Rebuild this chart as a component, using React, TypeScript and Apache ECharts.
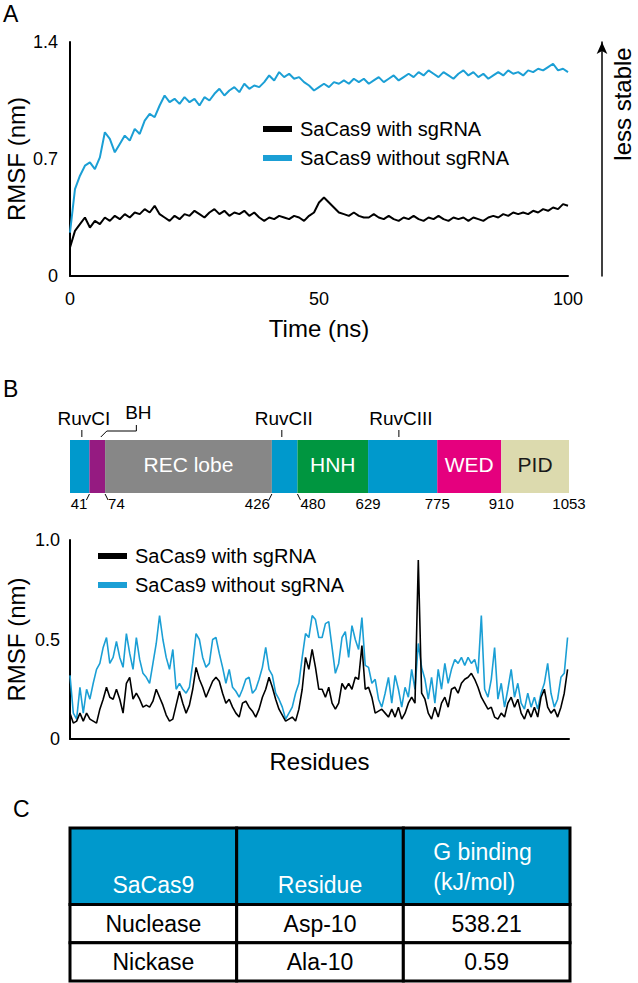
import React, { useEffect, useRef } from 'react';
import * as echarts from 'echarts';

const FONT = '"Liberation Sans", Arial, Helvetica, sans-serif';
const BLUE_LINE = '#1b9fd5';
const BLUE = '#0099cc';

// ---------------- Panel A data ----------------
const timeNs = Array.from({ length: 101 }, (_, i) => i);
const rmsfWithSgRNA_A = [
  0.17, 0.27, 0.31, 0.35, 0.29, 0.33, 0.31, 0.35, 0.33, 0.36,
  0.34, 0.37, 0.35, 0.38, 0.37, 0.40, 0.38, 0.42, 0.37, 0.35,
  0.33, 0.36, 0.34, 0.37, 0.36, 0.39, 0.37, 0.35, 0.38, 0.40,
  0.37, 0.39, 0.36, 0.38, 0.37, 0.39, 0.36, 0.38, 0.35, 0.33,
  0.35, 0.34, 0.36, 0.35, 0.34, 0.36, 0.35, 0.33, 0.36, 0.38,
  0.44, 0.47, 0.44, 0.41, 0.38, 0.37, 0.36, 0.38, 0.36, 0.35,
  0.35, 0.37, 0.35, 0.34, 0.36, 0.34, 0.33, 0.35, 0.34, 0.36,
  0.34, 0.33, 0.35, 0.34, 0.36, 0.34, 0.33, 0.35, 0.34, 0.35,
  0.33, 0.35, 0.34, 0.33, 0.35, 0.36, 0.35, 0.37, 0.36, 0.38,
  0.37, 0.38, 0.37, 0.39, 0.38, 0.40, 0.39, 0.41, 0.40, 0.43,
  0.42,
];
const rmsfWithoutSgRNA_A = [
  0.26, 0.52, 0.60, 0.66, 0.68, 0.64, 0.71, 0.86, 0.82, 0.74,
  0.79, 0.84, 0.81, 0.88, 0.85, 0.93, 0.97, 0.95, 1.02, 1.08,
  1.04, 1.06, 1.03, 1.07, 1.04, 1.06, 1.02, 1.07, 1.05, 1.09,
  1.12, 1.08, 1.11, 1.13, 1.10, 1.15, 1.12, 1.14, 1.13, 1.16,
  1.20, 1.17, 1.22, 1.19, 1.21, 1.18, 1.19, 1.16, 1.14, 1.11,
  1.13, 1.15, 1.13, 1.16, 1.15, 1.17, 1.15, 1.18, 1.16, 1.18,
  1.15, 1.17, 1.19, 1.16, 1.18, 1.20, 1.17, 1.19, 1.21, 1.19,
  1.22, 1.20, 1.23, 1.21, 1.19, 1.22, 1.20, 1.18, 1.21, 1.23,
  1.20, 1.22, 1.19, 1.21, 1.18, 1.20, 1.22, 1.20, 1.23, 1.21,
  1.22, 1.20, 1.23, 1.22, 1.24, 1.23, 1.25, 1.27, 1.23, 1.24,
  1.22,
];

// ---------------- Panel B data ----------------
const residueStep = 7;
const residues = Array.from({ length: 151 }, (_, i) => i * residueStep);
const rmsfWithoutSgRNA_B = [
  0.32, 0.13, 0.10, 0.26, 0.13, 0.25, 0.20, 0.28, 0.35, 0.38,
  0.46, 0.51, 0.38, 0.41, 0.49, 0.41, 0.36, 0.53, 0.43, 0.35,
  0.51, 0.40, 0.33, 0.31, 0.28, 0.38, 0.48, 0.62, 0.50, 0.41,
  0.35, 0.45, 0.25, 0.28, 0.25, 0.23, 0.26, 0.38, 0.53, 0.50,
  0.41, 0.36, 0.38, 0.50, 0.51, 0.43, 0.36, 0.28, 0.35, 0.26,
  0.24, 0.21, 0.25, 0.30, 0.31, 0.23, 0.25, 0.30, 0.36, 0.46,
  0.35, 0.32, 0.23, 0.20, 0.16, 0.10, 0.13, 0.16, 0.23, 0.28,
  0.41, 0.53, 0.51, 0.62, 0.60, 0.51,
  0.51, 0.58, 0.59, 0.46, 0.33, 0.38, 0.51, 0.54, 0.41, 0.57,
  0.50, 0.45, 0.61, 0.37, 0.36, 0.28, 0.30, 0.20, 0.16, 0.23,
  0.31, 0.18, 0.32, 0.25, 0.16, 0.26, 0.21, 0.35, 0.25, 0.48,
  0.36, 0.30, 0.20, 0.31, 0.18, 0.35, 0.25, 0.38, 0.28, 0.35,
  0.40, 0.38, 0.41, 0.37, 0.41, 0.38, 0.40, 0.33, 0.62, 0.25,
  0.21, 0.30, 0.46, 0.20, 0.28, 0.16, 0.25, 0.35, 0.21, 0.28,
  0.18, 0.15, 0.23, 0.16, 0.21, 0.15, 0.23, 0.28, 0.38, 0.23,
  0.16, 0.20, 0.31, 0.33, 0.51,
];
const rmsfWithSgRNA_B = [
  0.13, 0.08, 0.09, 0.13, 0.09, 0.13, 0.10, 0.09, 0.08, 0.15,
  0.20, 0.26, 0.21, 0.20, 0.25, 0.20, 0.13, 0.28, 0.31, 0.20,
  0.23, 0.20, 0.16, 0.17, 0.16, 0.19, 0.25, 0.21, 0.17, 0.12,
  0.09, 0.10, 0.17, 0.24, 0.18, 0.13, 0.17, 0.25, 0.36, 0.30,
  0.26, 0.21, 0.25, 0.29, 0.31, 0.29, 0.23, 0.18, 0.20, 0.16,
  0.13, 0.11, 0.18, 0.19, 0.16, 0.14, 0.11, 0.15, 0.21, 0.25,
  0.31, 0.26, 0.20, 0.15, 0.12, 0.09, 0.10, 0.11, 0.09, 0.15,
  0.25, 0.41, 0.35, 0.45, 0.36, 0.25,
  0.25, 0.21, 0.26, 0.18, 0.15, 0.18, 0.28, 0.25, 0.28, 0.25,
  0.31, 0.30, 0.47, 0.25, 0.26, 0.21, 0.13, 0.14, 0.15, 0.13,
  0.11, 0.15, 0.11, 0.16, 0.10, 0.13, 0.18, 0.21, 0.18, 0.90,
  0.23, 0.20, 0.13, 0.10, 0.16, 0.11, 0.18, 0.21, 0.16, 0.25,
  0.26, 0.23, 0.28, 0.30, 0.31, 0.33, 0.30, 0.26, 0.21, 0.18,
  0.15, 0.16, 0.11, 0.10, 0.13, 0.11, 0.18, 0.21, 0.16, 0.20,
  0.13, 0.10, 0.15, 0.11, 0.16, 0.11, 0.21, 0.25, 0.16, 0.13,
  0.15, 0.11, 0.16, 0.23, 0.35,
];

// Domain map (residue numbers)
const totalResidues = 1053;
const domainStarts = [0, 41, 74, 426, 480, 629, 775, 910];
const domainEnds = [41, 74, 426, 480, 629, 775, 910, 1053];
const domainNames = ['', '', 'REC lobe', '', 'HNH', '', 'WED', 'PID'];
const boundaryResidues = [41, 74, 426, 480, 629, 775, 910, 1053];
const topLabelNames = ['RuvCI', 'RuvCII', 'RuvCIII'];
const topLabelResidues = [25, 447, 694];
const bhLabel = 'BH';
const bhAnchorResidues = [65, 140];

// ---------------- Panel C data ----------------
const tableHeader = ['SaCas9', 'Residue', 'G binding\n(kJ/mol)'];
const tableRows = [
  ['Nuclease', 'Asp-10', '538.21'],
  ['Nickase', 'Ala-10', '0.59'],
];

// ---------------- styles ----------------
const domainColors = ['#0099cc', '#951b81', '#878787', '#0099cc', '#009640', '#0099cc', '#e5007e', '#dcdaae'];
const domainTextColors = ['#fff', '#fff', '#fff', '#fff', '#fff', '#fff', '#fff', '#1a1a1a'];
const boundarySides = [-1, 1, -1, 1, 0, 0, 0, 0];

function buildOption(): any {
  const axisLineStyle = { lineStyle: { color: '#000', width: 2 } };
  const names = ['SaCas9 with sgRNA', 'SaCas9 without sgRNA'];

  const domainRender = (params: any, api: any) => {
    const s = api.value(0);
    const e = api.value(2);
    const i = api.value(3);
    const p0 = api.coord([s, 1]);
    const p1 = api.coord([e, 0]);
    const children: any[] = [
      {
        type: 'rect',
        shape: { x: p0[0], y: p0[1], width: p1[0] - p0[0], height: p1[1] - p0[1] },
        style: { fill: domainColors[i] },
      },
    ];
    if (domainNames[i]) {
      children.push({
        type: 'text',
        style: {
          text: domainNames[i],
          x: (p0[0] + p1[0]) / 2,
          y: (p0[1] + p1[1]) / 2 - 2,
          align: 'center',
          verticalAlign: 'middle',
          fill: domainTextColors[i],
          fontSize: 21,
          fontFamily: FONT,
        },
      });
    }
    return { type: 'group', children };
  };

  const topLabelRender = (params: any, api: any) => {
    const r = api.value(0);
    const i = api.value(2);
    const p = api.coord([r, 1]);
    return {
      type: 'group',
      children: [
        { type: 'line', shape: { x1: p[0], y1: p[1] - 10, x2: p[0], y2: p[1] - 3 }, style: { stroke: '#000', lineWidth: 1 } },
        {
          type: 'text',
          style: { text: topLabelNames[i], x: p[0] + 2, y: p[1] - 22, align: 'center', verticalAlign: 'middle', fill: '#000', fontSize: 19, fontFamily: FONT },
        },
      ],
    };
  };

  const bhRender = (params: any, api: any) => {
    const a = api.coord([api.value(0), 1]);
    const b = api.coord([api.value(2), 1]);
    return {
      type: 'group',
      children: [
        {
          type: 'polyline',
          shape: { points: [[a[0], a[1] - 3], [a[0] + 6, a[1] - 9], [b[0], a[1] - 9], [b[0], a[1] - 15]] },
          style: { stroke: '#000', lineWidth: 1, fill: 'none' },
        },
        {
          type: 'text',
          style: { text: bhLabel, x: b[0] + 2, y: a[1] - 28, align: 'center', verticalAlign: 'middle', fill: '#000', fontSize: 19, fontFamily: FONT },
        },
      ],
    };
  };

  const boundaryRender = (params: any, api: any) => {
    const r = api.value(0);
    const i = api.value(2);
    const p = api.coord([r, 0]);
    const side = boundarySides[i];
    const children: any[] = [];
    if (side !== 0) {
      children.push({
        type: 'line',
        shape: { x1: p[0], y1: p[1] + 1, x2: p[0] + side * 3, y2: p[1] + 7 },
        style: { stroke: '#000', lineWidth: 1 },
      });
    }
    children.push({
      type: 'text',
      style: {
        text: String(r),
        x: side < 0 ? p[0] - 2 : side > 0 ? p[0] + 3 : p[0],
        y: p[1] + 10,
        align: side < 0 ? 'right' : side > 0 ? 'left' : 'center',
        verticalAlign: 'middle',
        fill: '#000',
        fontSize: 15,
        fontFamily: FONT,
      },
    });
    return { type: 'group', children };
  };

  const cellTexts = [...tableHeader, ...tableRows[0], ...tableRows[1]];
  const tableData: number[][] = [];
  tableHeader.forEach((_, c) => tableData.push([c, 0, 2, c]));
  tableRows.forEach((row, r) => row.forEach((_, c) => tableData.push([c, 2 + r, 3 + r, 3 + r * 3 + c])));

  const tableRender = (params: any, api: any) => {
    const c = api.value(0);
    const r0 = api.value(1);
    const r1 = api.value(2);
    const idx = api.value(3);
    const p0 = api.coord([c, r0]);
    const p1 = api.coord([c + 1, r1]);
    const header = r0 === 0;
    const w = p1[0] - p0[0];
    const h = p1[1] - p0[1];
    const children: any[] = [
      {
        type: 'rect',
        shape: { x: p0[0], y: p0[1], width: w, height: h },
        style: { fill: header ? BLUE : '#fff', stroke: '#000', lineWidth: 3 },
      },
    ];
    const txt = cellTexts[idx];
    if (header && c === 2) {
      children.push({
        type: 'text',
        style: { text: txt, x: p0[0] + 30, y: p1[1] - 8, align: 'left', verticalAlign: 'bottom', lineHeight: 30, fill: '#fff', fontSize: 23, fontFamily: FONT },
      });
    } else {
      children.push({
        type: 'text',
        style: {
          text: txt,
          x: p0[0] + w / 2,
          y: header ? p1[1] - 20 : p0[1] + h / 2,
          align: 'center',
          verticalAlign: 'middle',
          fill: header ? '#fff' : '#000',
          fontSize: 23,
          fontFamily: FONT,
        },
      });
    }
    return { type: 'group', children };
  };

  return {
    animation: false,
    textStyle: { fontFamily: FONT },
    grid: [
      { left: 70, top: 42, width: 498, height: 234, outerBoundsMode: 'none' },
      { left: 70, top: 440, width: 499, height: 53, outerBoundsMode: 'none' },
      { left: 70, top: 540, width: 499, height: 199, outerBoundsMode: 'none' },
      { left: 70, top: 828, width: 500, height: 153, outerBoundsMode: 'none' },
    ],
    xAxis: [
      {
        gridIndex: 0, type: 'value', min: 0, max: 100, interval: 50,
        axisLine: axisLineStyle, axisTick: { show: false }, splitLine: { show: false },
        axisLabel: { fontSize: 18, color: '#000', margin: 14 },
        name: 'Time (ns)', nameLocation: 'middle', nameGap: 40, nameMoveOverlap: false,
        nameTextStyle: { fontSize: 24, color: '#000' },
      },
      { gridIndex: 1, type: 'value', min: 0, max: totalResidues, show: false },
      {
        gridIndex: 2, type: 'value', min: 0, max: totalResidues,
        axisLine: axisLineStyle, axisTick: { show: false }, splitLine: { show: false },
        axisLabel: { show: false },
        name: 'Residues', nameLocation: 'middle', nameGap: 10, nameMoveOverlap: false,
        nameTextStyle: { fontSize: 24, color: '#000' },
      },
      { gridIndex: 3, type: 'value', min: 0, max: 3, show: false },
    ],
    yAxis: [
      {
        gridIndex: 0, type: 'value', min: 0, max: 1.4, interval: 0.7,
        axisLine: { show: true, ...axisLineStyle }, axisTick: { show: false }, splitLine: { show: false },
        axisLabel: { fontSize: 18, color: '#000', margin: 12 },
        name: 'RMSF (nm)', nameLocation: 'middle', nameRotate: 90, nameGap: 42, nameMoveOverlap: false,
        nameTextStyle: { fontSize: 24, color: '#000' },
      },
      {
        gridIndex: 0, type: 'value', min: 0, max: 1.4, position: 'right', offset: 34,
        axisLine: { show: true, symbol: ['none', 'arrow'], symbolSize: [8, 12], lineStyle: { color: '#000', width: 1.5 } },
        axisTick: { show: false }, axisLabel: { show: false }, splitLine: { show: false },
      },
      { gridIndex: 1, type: 'value', min: 0, max: 1, show: false },
      {
        gridIndex: 2, type: 'value', min: 0, max: 1, interval: 0.5,
        axisLine: { show: true, ...axisLineStyle }, axisTick: { show: false }, splitLine: { show: false },
        axisLabel: { fontSize: 18, color: '#000', margin: 10, formatter: (v: number) => (v === 0 ? '0' : v.toFixed(1)) },
        name: 'RMSF (nm)', nameLocation: 'middle', nameRotate: 90, nameGap: 42, nameMoveOverlap: false,
        nameTextStyle: { fontSize: 24, color: '#000' },
      },
      { gridIndex: 3, type: 'value', min: 0, max: 4, inverse: true, show: false },
    ],
    legend: [
      {
        left: 258, top: 114, orient: 'vertical', icon: 'rect', itemWidth: 29, itemHeight: 6, itemGap: 9,
        selectedMode: false, data: names,
        textStyle: { fontSize: 20, color: '#000', lineHeight: 20, padding: [0, 0, 0, 3] },
      },
      {
        left: 93, top: 541, orient: 'vertical', icon: 'rect', itemWidth: 29, itemHeight: 6, itemGap: 9,
        selectedMode: false, data: names,
        textStyle: { fontSize: 20, color: '#000', lineHeight: 20, padding: [0, 0, 0, 3] },
      },
    ],
    series: [
      {
        type: 'line', name: names[0], xAxisIndex: 0, yAxisIndex: 0, symbol: 'none',
        data: timeNs.map((t, i) => [t, rmsfWithSgRNA_A[i]]),
        lineStyle: { color: '#000', width: 2 }, itemStyle: { color: '#000' },
      },
      {
        type: 'line', name: names[1], xAxisIndex: 0, yAxisIndex: 0, symbol: 'none',
        data: timeNs.map((t, i) => [t, rmsfWithoutSgRNA_A[i]]),
        lineStyle: { color: BLUE_LINE, width: 2 }, itemStyle: { color: BLUE_LINE },
      },
      {
        type: 'custom', xAxisIndex: 1, yAxisIndex: 2, silent: true,
        data: domainStarts.map((s, i) => [s, 0.5, domainEnds[i], i]),
        renderItem: domainRender,
      },
      {
        type: 'custom', xAxisIndex: 1, yAxisIndex: 2, silent: true,
        data: topLabelResidues.map((r, i) => [r, 0.5, i]),
        renderItem: topLabelRender,
      },
      {
        type: 'custom', xAxisIndex: 1, yAxisIndex: 2, silent: true,
        data: [[bhAnchorResidues[0], 0.5, bhAnchorResidues[1]]],
        renderItem: bhRender,
      },
      {
        type: 'custom', xAxisIndex: 1, yAxisIndex: 2, silent: true,
        data: boundaryResidues.map((r, i) => [r, 0.5, i]),
        renderItem: boundaryRender,
      },
      {
        type: 'line', name: names[1], xAxisIndex: 2, yAxisIndex: 3, symbol: 'none',
        data: residues.map((r, i) => [r, rmsfWithoutSgRNA_B[i]]),
        lineStyle: { color: BLUE_LINE, width: 1.6 }, itemStyle: { color: BLUE_LINE },
      },
      {
        type: 'line', name: names[0], xAxisIndex: 2, yAxisIndex: 3, symbol: 'none',
        data: residues.map((r, i) => [r, rmsfWithSgRNA_B[i]]),
        lineStyle: { color: '#000', width: 1.6 }, itemStyle: { color: '#000' },
      },
      {
        type: 'custom', xAxisIndex: 3, yAxisIndex: 4, silent: true,
        data: tableData,
        renderItem: tableRender,
      },
    ],
    graphic: [
      { type: 'text', left: 3, top: 2, style: { text: 'A', fontSize: 23, fill: '#000', fontFamily: FONT } },
      { type: 'text', left: 3, top: 377, style: { text: 'B', fontSize: 23, fill: '#000', fontFamily: FONT } },
      { type: 'text', left: 13, top: 797, style: { text: 'C', fontSize: 23, fill: '#000', fontFamily: FONT } },
      {
        type: 'text', x: 622, y: 104, rotation: Math.PI / 2,
        style: { text: 'less stable', fontSize: 24, fill: '#000', fontFamily: FONT, align: 'center', verticalAlign: 'middle' },
      },
    ],
  };
}

export default function App() {
  const ref = useRef<HTMLDivElement>(null);
  useEffect(() => {
    document.body.style.margin = '0';
    const chart = echarts.init(ref.current as HTMLDivElement, undefined, { renderer: 'svg' });
    chart.setOption(buildOption());
    return () => chart.dispose();
  }, []);
  return <div ref={ref} style={{ width: 638, height: 983 }} />;
}
